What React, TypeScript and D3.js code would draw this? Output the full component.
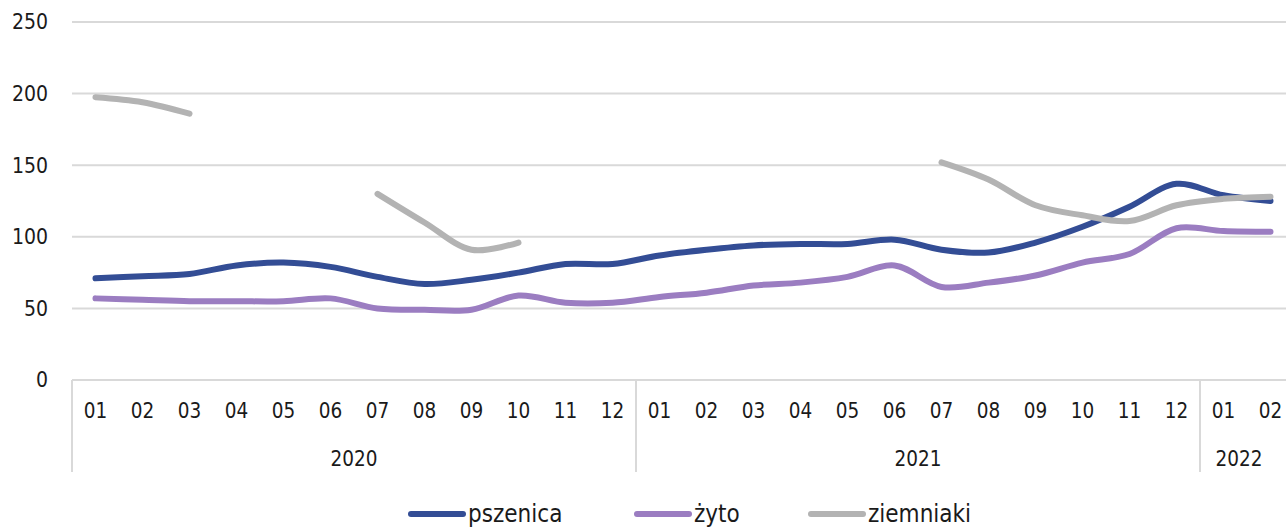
import React from 'react';
import * as d3 from 'd3';

// months 2020-01 .. 2022-02
const months = ['01','02','03','04','05','06','07','08','09','10','11','12',
    '01','02','03','04','05','06','07','08','09','10','11','12',
    '01','02'];
const years = [
    { label: '2020', count: 12 },
    { label: '2021', count: 12 },
    { label: '2022', count: 2 },
];

const pszenica = [71, 72.5, 74, 80, 82, 79, 72, 67, 70, 75, 81, 81,
    87, 91, 94, 95, 95, 98, 91, 89, 96, 107, 121, 137, 129, 125];
const zyto = [57, 56, 55, 55, 55, 57, 50, 49, 49, 59, 54, 54,
    58, 61, 66, 68, 72, 80, 65, 68, 73, 82, 88, 106, 104, 103.5];
const ziemniaki: (number | null)[] = [197.5, 194, 186, null, null, null, 130, 110, 91, 96, null, null,
    null, null, null, null, null, null, 152, 140, 122, 115, 111, 122, 126.5, 128];

const yTicks = [0, 50, 100, 150, 200, 250];

const series = [
    { name: 'pszenica', values: pszenica as (number | null)[], color: '#334d95' },
    { name: 'żyto', values: zyto as (number | null)[], color: '#9b7dc1' },
    { name: 'ziemniaki', values: ziemniaki, color: '#b3b3b3' },
];

const W = 1286, H = 528;
const font = '"Liberation Sans Narrow", "DejaVu Sans Condensed", sans-serif';

export default function App() {
    const left = 72, right = 1294, top = 22, bottom = 380;
    const x = d3.scaleBand<number>().domain(months.map((_, i) => i)).range([left, right]).padding(0);
    const y = d3.scaleLinear().domain([0, 250]).range([bottom, top]);
    const cx = (i: number) => (x(i) as number) + x.bandwidth() / 2;

    const line = d3.line<number | null>()
        .defined(d => d !== null)
        .x((_, i) => cx(i))
        .y(d => y(d as number))
        .curve(d3.curveCatmullRom.alpha(0.5));

    // year boundaries
    let acc = 0;
    const yearPos = years.map(yr => {
        const start = acc;
        acc += yr.count;
        return { ...yr, x0: x(start) as number, x1: start + yr.count < months.length ? (x(start + yr.count) as number) : right };
    });

    const legend = [
        { s: series[0], x: 408 },
        { s: series[1], x: 634 },
        { s: series[2], x: 808 },
    ];

    return (
        <svg width={W} height={H} style={{ position: 'absolute', left: 0, top: 0, background: '#fff' }}
             fontFamily={font}>
            {yTicks.map(t => (
                <g key={t}>
                    <line x1={left} x2={right} y1={y(t)} y2={y(t)} stroke="#d9d9d9" strokeWidth={2} />
                    <text x={48} y={y(t)} dy="0.35em" textAnchor="end" fontSize={21} fill="#1a1a1a">{t}</text>
                </g>
            ))}
            {/* category axis separators */}
            <line x1={left} x2={left} y1={bottom} y2={472} stroke="#d9d9d9" strokeWidth={2} />
            {yearPos.slice(1).map(yr => (
                <line key={yr.label} x1={yr.x0} x2={yr.x0} y1={bottom} y2={472} stroke="#d9d9d9" strokeWidth={2} />
            ))}
            {months.map((m, i) => (
                <text key={i} x={cx(i)} y={411} dy="0.35em" textAnchor="middle" fontSize={20.5} fill="#1a1a1a">{m}</text>
            ))}
            {yearPos.map(yr => (
                <text key={yr.label} x={(yr.x0 + Math.min(yr.x1, 1286)) / 2 + (yr.label === '2022' ? -4 : 0)} y={459} dy="0.35em"
                      textAnchor="middle" fontSize={20.5} fill="#1a1a1a">{yr.label}</text>
            ))}
            {series.map(s => (
                <path key={s.name} d={line(s.values) || ''} fill="none" stroke={s.color} strokeWidth={6}
                      strokeLinecap="round" strokeLinejoin="round" />
            ))}
            {legend.map(l => (
                <g key={l.s.name}>
                    <line x1={l.x + 3} x2={l.x + 55} y1={514} y2={514} stroke={l.s.color} strokeWidth={6} strokeLinecap="round" />
                    <text x={l.x + 60} y={514} dy="0.35em" fontSize={24} fill="#1a1a1a">{l.s.name}</text>
                </g>
            ))}
        </svg>
    );
}
